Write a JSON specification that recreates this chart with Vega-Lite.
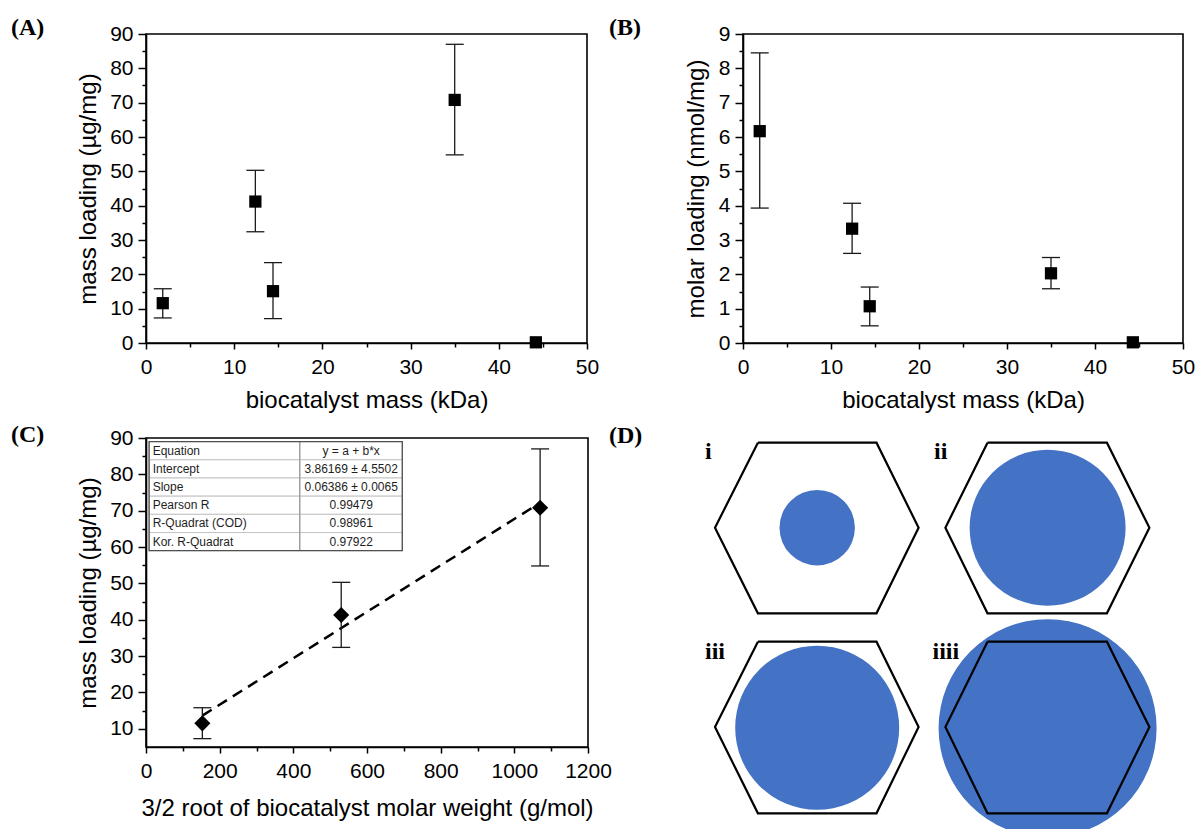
{
  "$schema": "https://vega.github.io/schema/vega-lite/v6.json",
  "padding": {"left": 10, "top": 15, "right": 0, "bottom": 0},
  "spacing": 9,
  "datasets": {
    "A": [
      {"kda": 1.9, "load": 11.6, "lo": 7.3, "hi": 15.8},
      {"kda": 12.4, "load": 41.2, "lo": 32.4, "hi": 50.3},
      {"kda": 14.4, "load": 15.1, "lo": 7.1, "hi": 23.4},
      {"kda": 35.0, "load": 70.8, "lo": 54.8, "hi": 87.0},
      {"kda": 44.2, "load": 0.2}
    ],
    "B": [
      {"kda": 1.9, "molar": 6.17, "lo": 3.93, "hi": 8.45},
      {"kda": 12.4, "molar": 3.33, "lo": 2.61, "hi": 4.07},
      {"kda": 14.4, "molar": 1.07, "lo": 0.5, "hi": 1.63},
      {"kda": 35.0, "molar": 2.03, "lo": 1.58, "hi": 2.49},
      {"kda": 44.3, "molar": 0.02}
    ],
    "C": [
      {"root": 153, "load": 11.5, "lo": 7.3, "hi": 15.8},
      {"root": 530, "load": 41.3, "lo": 32.4, "hi": 50.3},
      {"root": 1070, "load": 70.8, "lo": 54.8, "hi": 87.0}
    ],
    "fit": [
      {"root": 153, "load": 13.63},
      {"root": 1070, "load": 72.19}
    ],
    "table": [
      {"label": "Equation", "value": "y = a + b*x", "top": 89, "bot": 84, "mid": 86.5},
      {"label": "Intercept", "value": "3.86169 ± 4.5502", "top": 84, "bot": 79, "mid": 81.5},
      {"label": "Slope", "value": "0.06386 ± 0.0065", "top": 79, "bot": 74, "mid": 76.5},
      {"label": "Pearson R", "value": "0.99479", "top": 74, "bot": 69, "mid": 71.5},
      {"label": "R-Quadrat (COD)", "value": "0.98961", "top": 69, "bot": 64, "mid": 66.5},
      {"label": "Kor. R-Quadrat", "value": "0.97922", "top": 64, "bot": 59, "mid": 61.5}
    ],
    "circles": [
      {"id": "i", "cx": 116.2, "cy": 89.7, "r": 37.7},
      {"id": "ii", "cx": 346.6, "cy": 89.8, "r": 78},
      {"id": "iii", "cx": 116.2, "cy": 289.7, "r": 82},
      {"id": "iiii", "cx": 346.6, "cy": 290.3, "r": 109}
    ],
    "hex": [
      {"hex": "i", "k": 0, "x": 56.9, "y": 4.7},
      {"hex": "i", "k": 1, "x": 175.5, "y": 4.7},
      {"hex": "i", "k": 2, "x": 217.6, "y": 89.7},
      {"hex": "i", "k": 3, "x": 175.5, "y": 175.3},
      {"hex": "i", "k": 4, "x": 56.9, "y": 175.3},
      {"hex": "i", "k": 5, "x": 14.0, "y": 89.7},
      {"hex": "i", "k": 6, "x": 56.9, "y": 4.7},
      {"hex": "ii", "k": 0, "x": 286.5, "y": 4.7},
      {"hex": "ii", "k": 1, "x": 405.9, "y": 4.7},
      {"hex": "ii", "k": 2, "x": 448.4, "y": 89.7},
      {"hex": "ii", "k": 3, "x": 405.9, "y": 175.3},
      {"hex": "ii", "k": 4, "x": 286.5, "y": 175.3},
      {"hex": "ii", "k": 5, "x": 244.4, "y": 89.7},
      {"hex": "ii", "k": 6, "x": 286.5, "y": 4.7},
      {"hex": "iii", "k": 0, "x": 56.9, "y": 203.7},
      {"hex": "iii", "k": 1, "x": 175.5, "y": 203.7},
      {"hex": "iii", "k": 2, "x": 217.6, "y": 289.0},
      {"hex": "iii", "k": 3, "x": 175.5, "y": 375.3},
      {"hex": "iii", "k": 4, "x": 56.9, "y": 375.3},
      {"hex": "iii", "k": 5, "x": 14.0, "y": 289.0},
      {"hex": "iii", "k": 6, "x": 56.9, "y": 203.7},
      {"hex": "iiii", "k": 0, "x": 286.5, "y": 203.7},
      {"hex": "iiii", "k": 1, "x": 405.9, "y": 203.7},
      {"hex": "iiii", "k": 2, "x": 448.4, "y": 289.0},
      {"hex": "iiii", "k": 3, "x": 405.9, "y": 375.3},
      {"hex": "iiii", "k": 4, "x": 286.5, "y": 375.3},
      {"hex": "iiii", "k": 5, "x": 244.4, "y": 289.0},
      {"hex": "iiii", "k": 6, "x": 286.5, "y": 203.7}
    ],
    "dlabels": [
      {"t": "i", "x": 4, "y": 21},
      {"t": "ii", "x": 233, "y": 21},
      {"t": "iii", "x": 4, "y": 221},
      {"t": "iiii", "x": 231.5, "y": 221}
    ]
  },
  "vconcat": [
    {
      "bounds": "flush",
      "spacing": 156,
      "hconcat": [
        {
          "width": 441,
          "height": 309,
          "title": {"text": "(A)", "dx": -135, "dy": 21},
          "data": {"name": "A"},
          "layer": [
            {
              "transform": [{"filter": "isValid(datum.lo)"}],
              "mark": {"type": "rule", "color": "#1a1a1a", "strokeWidth": 1.3},
              "encoding": {
                "x": {"field": "kda", "type": "quantitative", "scale": {"domain": [0, 50], "nice": false, "zero": false}, "axis": null},
                "y": {"field": "lo", "type": "quantitative", "scale": {"domain": [0, 90], "nice": false}, "axis": null},
                "y2": {"field": "hi"}
              }
            },
            {
              "transform": [{"filter": "isValid(datum.lo)"}],
              "mark": {"type": "tick", "orient": "horizontal", "size": 18, "thickness": 1.3, "color": "#1a1a1a", "opacity": 1},
              "encoding": {
                "x": {"field": "kda", "type": "quantitative", "scale": {"domain": [0, 50], "nice": false, "zero": false}, "axis": null},
                "y": {"field": "lo", "type": "quantitative", "scale": {"domain": [0, 90], "nice": false}, "axis": null}
              }
            },
            {
              "transform": [{"filter": "isValid(datum.hi)"}],
              "mark": {"type": "tick", "orient": "horizontal", "size": 18, "thickness": 1.3, "color": "#1a1a1a", "opacity": 1},
              "encoding": {
                "x": {"field": "kda", "type": "quantitative", "scale": {"domain": [0, 50], "nice": false, "zero": false}, "axis": null},
                "y": {"field": "hi", "type": "quantitative", "scale": {"domain": [0, 90], "nice": false}, "axis": null}
              }
            },
            {
              "mark": {"type": "square", "size": 150, "color": "black", "opacity": 1},
              "encoding": {
                "x": {"field": "kda", "type": "quantitative", "scale": {"domain": [0, 50], "nice": false, "zero": false}, "axis": {"values": [0, 10, 20, 30, 40, 50], "title": "biocatalyst mass (kDa)"}},
                "y": {"field": "load", "type": "quantitative", "scale": {"domain": [0, 90], "nice": false}, "axis": {"values": [0, 10, 20, 30, 40, 50, 60, 70, 80, 90], "title": "mass loading (µg/mg)"}}
              }
            },
            {
              "mark": {"type": "point", "opacity": 0},
              "encoding": {
                "x": {"field": "kda", "type": "quantitative", "scale": {"domain": [0, 50], "nice": false, "zero": false}, "axis": {"orient": "bottom", "values": [5, 15, 25, 35, 45], "labels": false, "domain": false, "tickSize": 4, "title": null}},
                "y": {"field": "load", "type": "quantitative", "scale": {"domain": [0, 90], "nice": false}, "axis": {"orient": "left", "values": [5, 15, 25, 35, 45, 55, 65, 75, 85], "labels": false, "domain": false, "tickSize": 4, "title": null}}
              }
            }
          ],
          "resolve": {"axis": {"x": "independent", "y": "independent"}}
        },
        {
          "width": 440,
          "height": 309,
          "title": {"text": "(B)", "dx": -134, "dy": 21},
          "data": {"name": "B"},
          "layer": [
            {
              "transform": [{"filter": "isValid(datum.lo)"}],
              "mark": {"type": "rule", "color": "#1a1a1a", "strokeWidth": 1.3},
              "encoding": {
                "x": {"field": "kda", "type": "quantitative", "scale": {"domain": [0, 50], "nice": false, "zero": false}, "axis": null},
                "y": {"field": "lo", "type": "quantitative", "scale": {"domain": [0, 9], "nice": false}, "axis": null},
                "y2": {"field": "hi"}
              }
            },
            {
              "transform": [{"filter": "isValid(datum.lo)"}],
              "mark": {"type": "tick", "orient": "horizontal", "size": 18, "thickness": 1.3, "color": "#1a1a1a", "opacity": 1},
              "encoding": {
                "x": {"field": "kda", "type": "quantitative", "scale": {"domain": [0, 50], "nice": false, "zero": false}, "axis": null},
                "y": {"field": "lo", "type": "quantitative", "scale": {"domain": [0, 9], "nice": false}, "axis": null}
              }
            },
            {
              "transform": [{"filter": "isValid(datum.hi)"}],
              "mark": {"type": "tick", "orient": "horizontal", "size": 18, "thickness": 1.3, "color": "#1a1a1a", "opacity": 1},
              "encoding": {
                "x": {"field": "kda", "type": "quantitative", "scale": {"domain": [0, 50], "nice": false, "zero": false}, "axis": null},
                "y": {"field": "hi", "type": "quantitative", "scale": {"domain": [0, 9], "nice": false}, "axis": null}
              }
            },
            {
              "mark": {"type": "square", "size": 150, "color": "black", "opacity": 1},
              "encoding": {
                "x": {"field": "kda", "type": "quantitative", "scale": {"domain": [0, 50], "nice": false, "zero": false}, "axis": {"values": [0, 10, 20, 30, 40, 50], "title": "biocatalyst mass (kDa)"}},
                "y": {"field": "molar", "type": "quantitative", "scale": {"domain": [0, 9], "nice": false}, "axis": {"values": [0, 1, 2, 3, 4, 5, 6, 7, 8, 9], "title": "molar loading (nmol/mg)", "titlePadding": 10}}
              }
            },
            {
              "mark": {"type": "point", "opacity": 0},
              "encoding": {
                "x": {"field": "kda", "type": "quantitative", "scale": {"domain": [0, 50], "nice": false, "zero": false}, "axis": {"orient": "bottom", "values": [5, 15, 25, 35, 45], "labels": false, "domain": false, "tickSize": 4, "title": null}},
                "y": {"field": "molar", "type": "quantitative", "scale": {"domain": [0, 9], "nice": false}, "axis": {"orient": "left", "values": [0.5, 1.5, 2.5, 3.5, 4.5, 5.5, 6.5, 7.5, 8.5], "labels": false, "domain": false, "tickSize": 4, "title": null}}
              }
            }
          ],
          "resolve": {"axis": {"x": "independent", "y": "independent"}}
        }
      ]
    },
    {
      "bounds": "flush",
      "spacing": 113,
      "hconcat": [
        {
          "width": 442,
          "height": 309,
          "title": {"text": "(C)", "dx": -135, "dy": 24},
          "layer": [
            {
              "data": {"name": "fit"},
              "mark": {"type": "line", "color": "black", "strokeWidth": 2.5, "strokeDash": [11, 7]},
              "encoding": {
                "x": {"field": "root", "type": "quantitative", "scale": {"domain": [0, 1200], "nice": false, "zero": false}, "axis": null},
                "y": {"field": "load", "type": "quantitative", "scale": {"domain": [5, 90], "nice": false, "zero": false}, "axis": null}
              }
            },
            {
              "data": {"name": "C"},
              "mark": {"type": "rule", "color": "#1a1a1a", "strokeWidth": 1.3},
              "encoding": {
                "x": {"field": "root", "type": "quantitative", "scale": {"domain": [0, 1200], "nice": false, "zero": false}, "axis": null},
                "y": {"field": "lo", "type": "quantitative", "scale": {"domain": [5, 90], "nice": false, "zero": false}, "axis": null},
                "y2": {"field": "hi"}
              }
            },
            {
              "data": {"name": "C"},
              "mark": {"type": "tick", "orient": "horizontal", "size": 18, "thickness": 1.3, "color": "#1a1a1a", "opacity": 1},
              "encoding": {
                "x": {"field": "root", "type": "quantitative", "scale": {"domain": [0, 1200], "nice": false, "zero": false}, "axis": null},
                "y": {"field": "lo", "type": "quantitative", "scale": {"domain": [5, 90], "nice": false, "zero": false}, "axis": null}
              }
            },
            {
              "data": {"name": "C"},
              "mark": {"type": "tick", "orient": "horizontal", "size": 18, "thickness": 1.3, "color": "#1a1a1a", "opacity": 1},
              "encoding": {
                "x": {"field": "root", "type": "quantitative", "scale": {"domain": [0, 1200], "nice": false, "zero": false}, "axis": null},
                "y": {"field": "hi", "type": "quantitative", "scale": {"domain": [5, 90], "nice": false, "zero": false}, "axis": null}
              }
            },
            {
              "data": {"name": "C"},
              "mark": {"type": "point", "shape": "diamond", "filled": true, "size": 260, "color": "black", "opacity": 1},
              "encoding": {
                "x": {"field": "root", "type": "quantitative", "scale": {"domain": [0, 1200], "nice": false, "zero": false}, "axis": {"values": [0, 200, 400, 600, 800, 1000, 1200], "format": "d", "title": "3/2 root of biocatalyst molar weight (g/mol)", "titlePadding": 15}},
                "y": {"field": "load", "type": "quantitative", "scale": {"domain": [5, 90], "nice": false, "zero": false}, "axis": {"values": [10, 20, 30, 40, 50, 60, 70, 80, 90], "title": "mass loading (µg/mg)"}}
              }
            },
            {
              "data": {"name": "C"},
              "mark": {"type": "point", "opacity": 0},
              "encoding": {
                "x": {"field": "root", "type": "quantitative", "scale": {"domain": [0, 1200], "nice": false, "zero": false}, "axis": {"orient": "bottom", "values": [100, 300, 500, 700, 900, 1100], "labels": false, "domain": false, "tickSize": 4, "title": null}},
                "y": {"field": "load", "type": "quantitative", "scale": {"domain": [5, 90], "nice": false, "zero": false}, "axis": {"orient": "left", "values": [15, 25, 35, 45, 55, 65, 75, 85], "labels": false, "domain": false, "tickSize": 4, "title": null}}
              }
            },
            {
              "data": {"name": "table"},
              "mark": {"type": "rect", "fill": "white", "stroke": "#c4c4c4", "strokeWidth": 1},
              "encoding": {
                "x": {"datum": 8.4, "type": "quantitative", "scale": {"domain": [0, 1200], "nice": false, "zero": false}, "axis": null},
                "x2": {"datum": 417.6},
                "y": {"field": "top", "type": "quantitative", "scale": {"domain": [5, 90], "nice": false, "zero": false}, "axis": null},
                "y2": {"field": "bot"}
              }
            },
            {
              "data": {"name": "table"},
              "mark": {"type": "rect", "fill": "white", "stroke": "#c4c4c4", "strokeWidth": 1},
              "encoding": {
                "x": {"datum": 417.6, "type": "quantitative", "scale": {"domain": [0, 1200], "nice": false, "zero": false}, "axis": null},
                "x2": {"datum": 695.8},
                "y": {"field": "top", "type": "quantitative", "scale": {"domain": [5, 90], "nice": false, "zero": false}, "axis": null},
                "y2": {"field": "bot"}
              }
            },
            {
              "data": {"values": [{"x": 417.6}]},
              "mark": {"type": "rule", "color": "#8c8c8c", "strokeWidth": 1},
              "encoding": {
                "x": {"field": "x", "type": "quantitative", "scale": {"domain": [0, 1200], "nice": false, "zero": false}, "axis": null},
                "y": {"datum": 89, "type": "quantitative", "scale": {"domain": [5, 90], "nice": false, "zero": false}, "axis": null},
                "y2": {"datum": 59}
              }
            },
            {
              "data": {"values": [{"x": 8.4}]},
              "mark": {"type": "rect", "fillOpacity": 0, "stroke": "#505050", "strokeWidth": 1.3},
              "encoding": {
                "x": {"field": "x", "type": "quantitative", "scale": {"domain": [0, 1200], "nice": false, "zero": false}, "axis": null},
                "x2": {"datum": 695.8},
                "y": {"datum": 89, "type": "quantitative", "scale": {"domain": [5, 90], "nice": false, "zero": false}, "axis": null},
                "y2": {"datum": 59}
              }
            },
            {
              "data": {"name": "table"},
              "mark": {"type": "text", "font": "Liberation Sans", "fontSize": 12, "align": "left", "baseline": "middle", "color": "#1e1e1e"},
              "encoding": {
                "x": {"datum": 18, "type": "quantitative", "scale": {"domain": [0, 1200], "nice": false, "zero": false}, "axis": null},
                "y": {"field": "mid", "type": "quantitative", "scale": {"domain": [5, 90], "nice": false, "zero": false}, "axis": null},
                "text": {"field": "label"}
              }
            },
            {
              "data": {"name": "table"},
              "mark": {"type": "text", "font": "Liberation Sans", "fontSize": 12, "align": "center", "baseline": "middle", "color": "#1e1e1e"},
              "encoding": {
                "x": {"datum": 557, "type": "quantitative", "scale": {"domain": [0, 1200], "nice": false, "zero": false}, "axis": null},
                "y": {"field": "mid", "type": "quantitative", "scale": {"domain": [5, 90], "nice": false, "zero": false}, "axis": null},
                "text": {"field": "value"}
              }
            }
          ],
          "resolve": {"axis": {"x": "independent", "y": "independent"}}
        },
        {
          "width": 480,
          "height": 392,
          "view": {"stroke": null},
          "title": {"text": "(D)", "dx": -92, "dy": 14},
          "layer": [
            {
              "data": {"name": "circles"},
              "mark": {"type": "circle", "color": "#4472C4", "opacity": 1, "clip": true},
              "encoding": {
                "x": {"field": "cx", "type": "quantitative", "scale": {"domain": [0, 480], "nice": false, "zero": false}, "axis": null},
                "y": {"field": "cy", "type": "quantitative", "scale": {"domain": [0, 392], "nice": false, "zero": false, "reverse": true}, "axis": null},
                "size": {"field": "r", "type": "quantitative", "scale": {"type": "pow", "exponent": 2, "domain": [0, 109], "range": [0, 47524]}, "legend": null}
              }
            },
            {
              "data": {"name": "hex"},
              "mark": {"type": "line", "color": "black", "strokeWidth": 2.2, "strokeJoin": "miter"},
              "encoding": {
                "x": {"field": "x", "type": "quantitative", "scale": {"domain": [0, 480], "nice": false, "zero": false}, "axis": null},
                "y": {"field": "y", "type": "quantitative", "scale": {"domain": [0, 392], "nice": false, "zero": false, "reverse": true}, "axis": null},
                "detail": {"field": "hex"},
                "order": {"field": "k", "type": "quantitative"}
              }
            },
            {
              "data": {"name": "dlabels"},
              "mark": {"type": "text", "font": "Liberation Serif", "fontWeight": "bold", "fontSize": 24, "align": "left", "baseline": "alphabetic", "color": "black"},
              "encoding": {
                "x": {"field": "x", "type": "quantitative", "scale": {"domain": [0, 480], "nice": false, "zero": false}, "axis": null},
                "y": {"field": "y", "type": "quantitative", "scale": {"domain": [0, 392], "nice": false, "zero": false, "reverse": true}, "axis": null},
                "text": {"field": "t"}
              }
            }
          ]
        }
      ]
    }
  ],
  "config": {
    "font": "Liberation Sans",
    "background": "white",
    "view": {"stroke": "black", "strokeWidth": 1.6},
    "axis": {
      "grid": false,
      "domainColor": "black",
      "domainWidth": 1.6,
      "tickColor": "black",
      "tickWidth": 1.5,
      "labelColor": "black",
      "titleColor": "black",
      "labelFont": "Liberation Sans",
      "titleFont": "Liberation Sans",
      "labelFontSize": 21,
      "titleFontSize": 24,
      "titleFontWeight": "normal",
      "labelFlush": false,
      "labelOverlap": false
    },
    "axisX": {"tickSize": 6, "labelPadding": 7, "titlePadding": 11},
    "axisY": {"tickSize": 8, "labelPadding": 5, "titlePadding": 9},
    "title": {
      "font": "Liberation Serif",
      "fontSize": 24,
      "fontWeight": "bold",
      "anchor": "start",
      "frame": "group",
      "offset": 0,
      "baseline": "alphabetic",
      "color": "black"
    }
  }
}
